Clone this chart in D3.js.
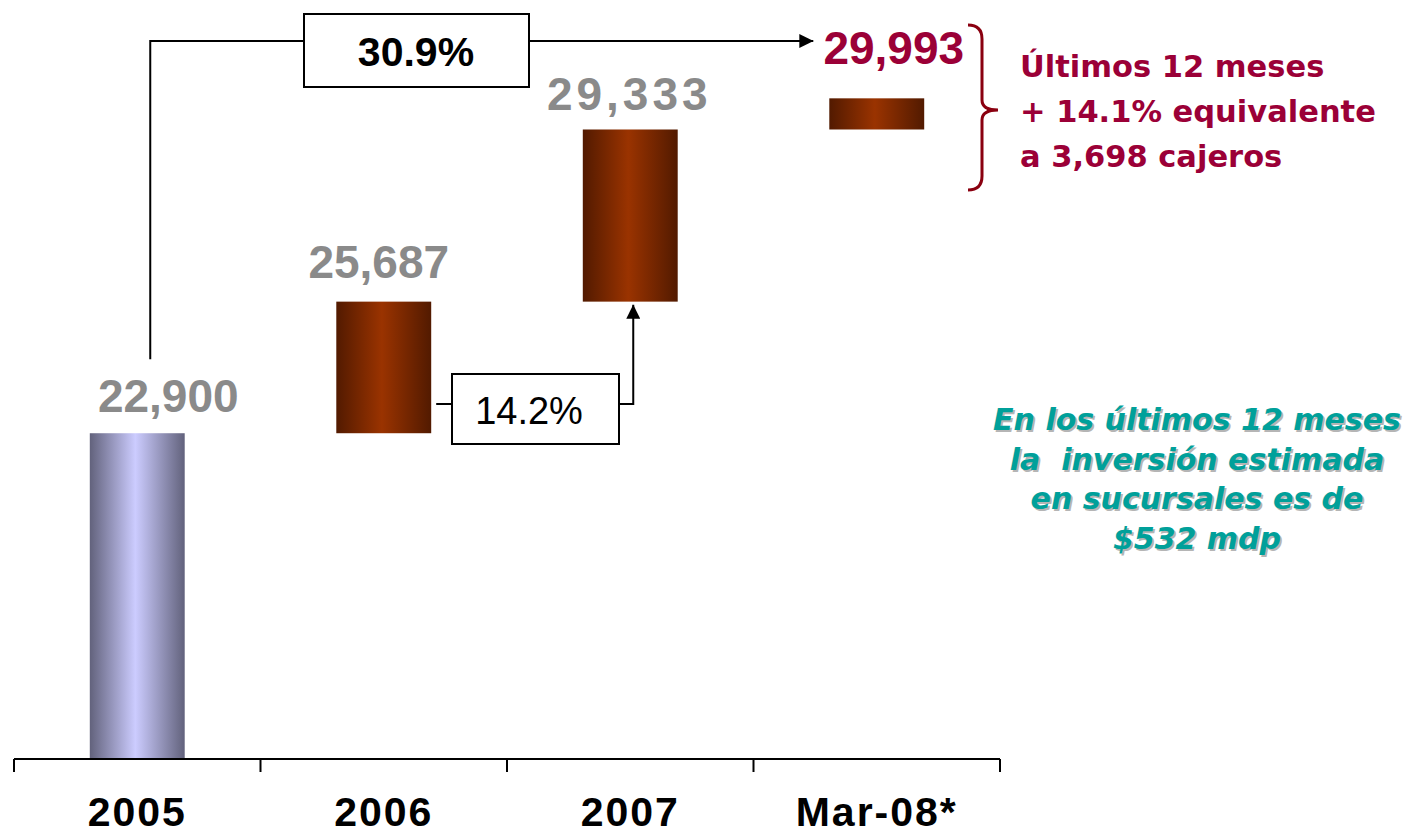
<!DOCTYPE html>
<html>
<head>
<meta charset="utf-8">
<script src="https://cdn.jsdelivr.net/npm/d3@7"></script>
<style>
  html, body { margin: 0; padding: 0; background: #fff; }
  svg { display: block; }
  .val { font-family: "Liberation Sans", Arial, sans-serif; font-weight: bold; font-size: 46px; }
  .cat { font-family: "Liberation Sans", Arial, sans-serif; font-weight: bold; font-size: 41px; letter-spacing: 2px; }
  .note { font-family: "DejaVu Sans", sans-serif; font-weight: bold; }
</style>
</head>
<body>
<div id="chart"></div>
<script>
const categories = ["2005", "2006", "2007", "Mar-08*"];
const totals = [22900, 25687, 29333, 29993];
const valueLabels = ["22,900", "25,687", "29,333", "29,993"];
const growthLabels = ["30.9%", "14.2%"];
const noteRight = ["Últimos 12 meses", "+ 14.1% equivalente", "a 3,698 cajeros"];
const noteInvest = ["En los últimos 12 meses", "la  inversión estimada", "en sucursales es de", "$532 mdp"];

// layout tweaks for the value labels (dx from bar centre, gap above bar top, letter spacing)
const labelNudge = [{ dx: 31, gap: 21, ls: 0 }, { dx: -5, gap: 24, ls: 0 }, { dx: -1, gap: 19, ls: 4 }, { dx: 17, gap: 34, ls: 0 }];

const W = 1411, H = 835;

const svg = d3.select("#chart").append("svg")
  .attr("width", W)
  .attr("height", H);

const defs = svg.append("defs");

function hGradient(id, edge, mid) {
  const g = defs.append("linearGradient").attr("id", id)
    .attr("x1", "0%").attr("x2", "100%").attr("y1", "0%").attr("y2", "0%");
  g.append("stop").attr("offset", "0%").attr("stop-color", edge);
  g.append("stop").attr("offset", "48%").attr("stop-color", mid);
  g.append("stop").attr("offset", "100%").attr("stop-color", edge);
}
hGradient("grad-base", "#62627c", "#ccccff");
hGradient("grad-step", "#521a00", "#9a3300");

const arrow = defs.append("marker")
  .attr("id", "arrow")
  .attr("viewBox", "0 0 10 10")
  .attr("refX", 10).attr("refY", 5)
  .attr("markerUnits", "userSpaceOnUse")
  .attr("markerWidth", 14).attr("markerHeight", 14)
  .attr("orient", "auto");
arrow.append("path").attr("d", "M0,0L10,5L0,10Z").attr("fill", "#000");

const x = d3.scaleBand()
  .domain(categories)
  .range([14, 1000])
  .paddingInner(0.615)
  .paddingOuter(0.3075);

const y = d3.scaleLinear()
  .domain([16000, 30000])
  .range([759, 98]);

const bars = totals.map((v, i) => ({
  cat: categories[i],
  lo: i === 0 ? y.domain()[0] : totals[i - 1],
  hi: v,
  label: valueLabels[i],
  i
}));

svg.append("g")
  .selectAll("rect")
  .data(bars)
  .join("rect")
  .attr("x", (d) => x(d.cat))
  .attr("width", x.bandwidth())
  .attr("y", (d) => y(d.hi))
  .attr("height", (d) => y(d.lo) - y(d.hi))
  .attr("fill", (d) => d.i === 0 ? "url(#grad-base)" : "url(#grad-step)");

svg.append("g")
  .selectAll("text")
  .data(bars)
  .join("text")
  .attr("class", "val")
  .attr("x", (d) => x(d.cat) + x.bandwidth() / 2 + labelNudge[d.i].dx)
  .attr("y", (d) => y(d.hi) - labelNudge[d.i].gap)
  .attr("text-anchor", "middle")
  .style("letter-spacing", (d) => labelNudge[d.i].ls + "px")
  .attr("fill", (d) => d.i === 3 ? "#9b0037" : "#8a8a8a")
  .text((d) => d.label);

// category axis: line with separators between bands
const axisY = y.range()[0];
const bounds = categories.map((c) => x(c) - x.step() * x.paddingInner() / 2);
bounds.push(x.range()[1]);
const axis = svg.append("g");
axis.append("line")
  .attr("x1", x.range()[0]).attr("x2", x.range()[1])
  .attr("y1", axisY).attr("y2", axisY)
  .attr("stroke", "#000").attr("stroke-width", 2);
axis.selectAll(".sep")
  .data(bounds)
  .join("line")
  .attr("class", "sep")
  .attr("x1", (d) => d).attr("x2", (d) => d)
  .attr("y1", axisY).attr("y2", axisY + 13)
  .attr("stroke", "#000").attr("stroke-width", 2);
axis.selectAll("text")
  .data(categories)
  .join("text")
  .attr("class", "cat")
  .attr("x", (d) => x(d) + x.bandwidth() / 2)
  .attr("y", 826)
  .attr("text-anchor", "middle")
  .text((d) => d);

// growth connectors
const cx = (c) => x(c) + x.bandwidth() / 2;
const conn = svg.append("g").attr("fill", "none").attr("stroke", "#000").attr("stroke-width", 2);

// 2005 -> Mar-08
const topLine = 41;
conn.append("path")
  .attr("d", `M${cx(categories[0]) + 13},${y(totals[0]) - 74}V${topLine}H304`);
conn.append("path")
  .attr("d", `M529,${topLine}H${x(categories[3]) - 16}`)
  .attr("marker-end", "url(#arrow)");
svg.append("rect")
  .attr("x", 304).attr("y", 14).attr("width", 225).attr("height", 73)
  .attr("fill", "#fff").attr("stroke", "#000").attr("stroke-width", 2);
svg.append("text")
  .attr("x", 416).attr("y", 66)
  .attr("text-anchor", "middle")
  .style("font-family", "Liberation Sans, Arial, sans-serif")
  .style("font-weight", "bold")
  .style("font-size", "41px")
  .text(growthLabels[0]);

// 2006 -> 2007
const midLine = 404;
conn.append("path")
  .attr("d", `M${x(categories[1]) + x.bandwidth() + 5},${midLine}H452`);
conn.append("path")
  .attr("d", `M619,${midLine}H${cx(categories[2]) + 3}V${y(totals[1]) + 3}`)
  .attr("marker-end", "url(#arrow)");
svg.append("rect")
  .attr("x", 452).attr("y", 374).attr("width", 167).attr("height", 70)
  .attr("fill", "#fff").attr("stroke", "#000").attr("stroke-width", 2);
svg.append("text")
  .attr("x", 529).attr("y", 424)
  .attr("text-anchor", "middle")
  .style("font-family", "Liberation Sans, Arial, sans-serif")
  .style("font-size", "38px")
  .text(growthLabels[1]);

// brace
const bx = 968, bTop = 25, bBot = 190, bMid = 110;
svg.append("path")
  .attr("d", `M${bx},${bTop} Q${bx + 14},${bTop} ${bx + 14},${bTop + 14} V${bMid - 10} Q${bx + 14},${bMid} ${bx + 30},${bMid} Q${bx + 14},${bMid} ${bx + 14},${bMid + 10} V${bBot - 14} Q${bx + 14},${bBot} ${bx},${bBot}`)
  .attr("fill", "none")
  .attr("stroke", "#8a0010")
  .attr("stroke-width", 3);

svg.append("g")
  .selectAll("text")
  .data(noteRight)
  .join("text")
  .attr("class", "note")
  .attr("x", 1020)
  .attr("y", (d, i) => 77 + i * 45)
  .attr("fill", "#9b0037")
  .style("font-size", "30.5px")
  .text((d) => d);

// investment note with soft shadow
const inv = svg.append("g").attr("class", "note")
  .style("font-size", "30px")
  .style("font-style", "italic")
  .attr("text-anchor", "middle");
[{ dx: 2, dy: 2, fill: "#b5b5b5" }, { dx: 0, dy: 0, fill: "#00a09a" }].forEach((s) => {
  inv.append("g")
    .selectAll("text")
    .data(noteInvest)
    .join("text")
    .attr("x", 1197 + s.dx)
    .attr("y", (d, i) => 430 + i * 39.5 + s.dy)
    .attr("fill", s.fill)
    .attr("xml:space", "preserve")
    .style("white-space", "pre")
    .text((d) => d);
});
</script>
</body>
</html>
